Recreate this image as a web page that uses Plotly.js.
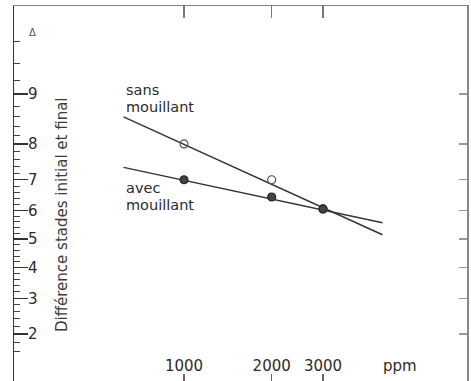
<!DOCTYPE html>
<html>
<head>
<meta charset="utf-8">
<script src="https://cdn.plot.ly/plotly-3.0.1.min.js"></script>
<style>html,body{margin:0;padding:0;background:#fff;}#chart{width:471px;height:381px;}</style>
</head>
<body>
<div id="chart"></div>
<script>
// ---- data ----
const ppm = [1000, 2000, 3000];
const sansPoints = [8.0, 7.0, 6.05];      // sans mouillant (open circles)
const avecPoints = [7.0, 6.45, 6.05];     // avec mouillant (filled circles)
const fitPpm = [620, 4800];               // extent of the fitted lines
const sansFit = [8.6, 5.15];
const avecFit = [7.37, 5.57];
const yTickValues = [2, 3, 4, 5, 6, 7, 8, 9];
const yTickLabels = ['2', '3', '4', '5', '6', '7', '8', '9'];
const xTickValues = [1000, 2000, 3000];
const xTickLabels = ['1000', '2000', '3000'];

// probability (probit) scale for the stage difference axis (value / 10)
function probit(p) {
  const a = [-3.969683028665376e+01, 2.209460984245205e+02, -2.759285104469687e+02, 1.383577518672690e+02, -3.066479806614716e+01, 2.506628277459239e+00];
  const b = [-5.447609879822406e+01, 1.615858368580409e+02, -1.556989798598866e+02, 6.680131188771972e+01, -1.328068155288572e+01];
  const c = [-7.784894002430293e-03, -3.223964580411365e-01, -2.400758277161838e+00, -2.549732539343734e+00, 4.374664141464968e+00, 2.938163982698783e+00];
  const d = [7.784695709041462e-03, 3.224671290700398e-01, 2.445134137142996e+00, 3.754408661907416e+00];
  const plow = 0.02425;
  let q, r;
  if (p < plow) {
    q = Math.sqrt(-2 * Math.log(p));
    return (((((c[0]*q+c[1])*q+c[2])*q+c[3])*q+c[4])*q+c[5]) / ((((d[0]*q+d[1])*q+d[2])*q+d[3])*q+1);
  } else if (p <= 1 - plow) {
    q = p - 0.5; r = q * q;
    return (((((a[0]*r+a[1])*r+a[2])*r+a[3])*r+a[4])*r+a[5])*q / (((((b[0]*r+b[1])*r+b[2])*r+b[3])*r+b[4])*r+1);
  } else {
    q = Math.sqrt(-2 * Math.log(1 - p));
    return -(((((c[0]*q+c[1])*q+c[2])*q+c[3])*q+c[4])*q+c[5]) / ((((d[0]*q+d[1])*q+d[2])*q+d[3])*q+1);
  }
}
const S = v => probit(v / 10);

const minorVals = [];
for (let i = 6; i <= 49; i++) { const v = i / 5; if (Math.abs(v - Math.round(v)) > 1e-6) minorVals.push(S(v)); }

const FONT = 'DejaVu Sans, sans-serif';
const INK = '#2b2b2b';
const yRange = [-1.2566, 2.0619];
const xRange = [2.4164, 3.9715];

const traces = [
  { x: fitPpm, y: sansFit.map(S), mode: 'lines', line: { color: '#333', width: 1.4 }, customdata: sansFit, showlegend: false, hoverinfo: 'skip' },
  { x: fitPpm, y: avecFit.map(S), mode: 'lines', line: { color: '#333', width: 1.4 }, customdata: avecFit, showlegend: false, hoverinfo: 'skip' },
  { x: ppm, y: sansPoints.map(S), mode: 'markers', customdata: sansPoints, showlegend: false,
    marker: { symbol: 'circle-open', size: 8, color: '#555', line: { width: 1.2, color: '#555' } } },
  { x: ppm, y: avecPoints.map(S), mode: 'markers', customdata: avecPoints, showlegend: false,
    marker: { symbol: 'circle', size: 8, color: '#444', line: { width: 1.2, color: '#222' } } },
  // empty traces so the frame / minor-tick axes get drawn
  { x: [], y: [], xaxis: 'x2', yaxis: 'y2', mode: 'markers', showlegend: false, hoverinfo: 'skip' },
  { x: [], y: [], xaxis: 'x', yaxis: 'y3', mode: 'markers', showlegend: false, hoverinfo: 'skip' }
];

const ann = (x, y, text, extra) => Object.assign({ xref: 'paper', yref: 'paper', x: x, y: y, text: text, showarrow: false,
  xanchor: 'left', yanchor: 'middle', font: { family: FONT, size: 14.5, color: INK } }, extra || {});
const px = x => (x - 14) / 453;
const py = y => (381 - y) / 375;

const layout = {
  width: 471, height: 381,
  margin: { l: 14, r: 4, t: 6, b: 0 },
  paper_bgcolor: '#fff', plot_bgcolor: '#fff',
  showlegend: false,
  font: { family: FONT, size: 15, color: INK },
  xaxis: {
    type: 'log', range: xRange,
    tickmode: 'array', tickvals: xTickValues, ticktext: xTickLabels,
    ticks: 'inside', ticklen: 7, tickwidth: 1.5, tickcolor: '#666',
    ticklabelposition: 'inside', tickfont: { family: FONT, size: 15, color: INK },
    showline: false,
    showgrid: false, zeroline: false, fixedrange: true
  },
  xaxis2: {
    type: 'log', range: xRange, overlaying: 'x', side: 'top',
    tickmode: 'array', tickvals: xTickValues, showticklabels: false,
    ticks: 'inside', ticklen: 12, tickwidth: 1.5, tickcolor: '#777',
    showline: true, linecolor: '#8a8070', linewidth: 1.5,
    showgrid: false, zeroline: false, fixedrange: true
  },
  yaxis: {
    range: yRange,
    tickmode: 'array', tickvals: yTickValues.map(S), ticktext: yTickLabels,
    ticks: 'inside', ticklen: 14, tickwidth: 1.5, tickcolor: '#333',
    ticklabelposition: 'inside', tickfont: { family: FONT, size: 15, color: INK },
    showline: true, linecolor: '#333', linewidth: 1.5,
    showgrid: false, zeroline: false, fixedrange: true
  },
  yaxis2: {
    overlaying: 'y', side: 'right', range: yRange,
    tickmode: 'array', tickvals: yTickValues.map(S), showticklabels: false,
    ticks: 'inside', ticklen: 8, tickwidth: 1.5, tickcolor: '#999',
    showline: true, linecolor: '#888', linewidth: 1.5,
    showgrid: false, zeroline: false, fixedrange: true
  },
  yaxis3: {
    overlaying: 'y', side: 'left', range: yRange,
    tickmode: 'array', tickvals: minorVals, showticklabels: false,
    ticks: 'inside', ticklen: 6, tickwidth: 1, tickcolor: '#444',
    showline: false, showgrid: false, zeroline: false, fixedrange: true
  },
  annotations: [
    ann(px(124), py(89.5), 'sans'),
    ann(px(124), py(106.5), 'mouillant'),
    ann(px(124), py(188), 'avec'),
    ann(px(124), py(205), 'mouillant'),
    ann(px(400), py(366), 'ppm', { xanchor: 'center', font: { family: FONT, size: 15, color: INK } }),
    ann(px(32), py(33), 'Δ', { xanchor: 'center', font: { family: FONT, size: 10, color: '#555' } }),
    ann(px(62), py(215), 'Différence stades initial et final', { xanchor: 'center', textangle: -90, font: { family: FONT, size: 15, color: '#3a3a3a' } })
  ]
};

Plotly.newPlot('chart', traces, layout, { staticPlot: true, displayModeBar: false });
</script>
</body>
</html>
